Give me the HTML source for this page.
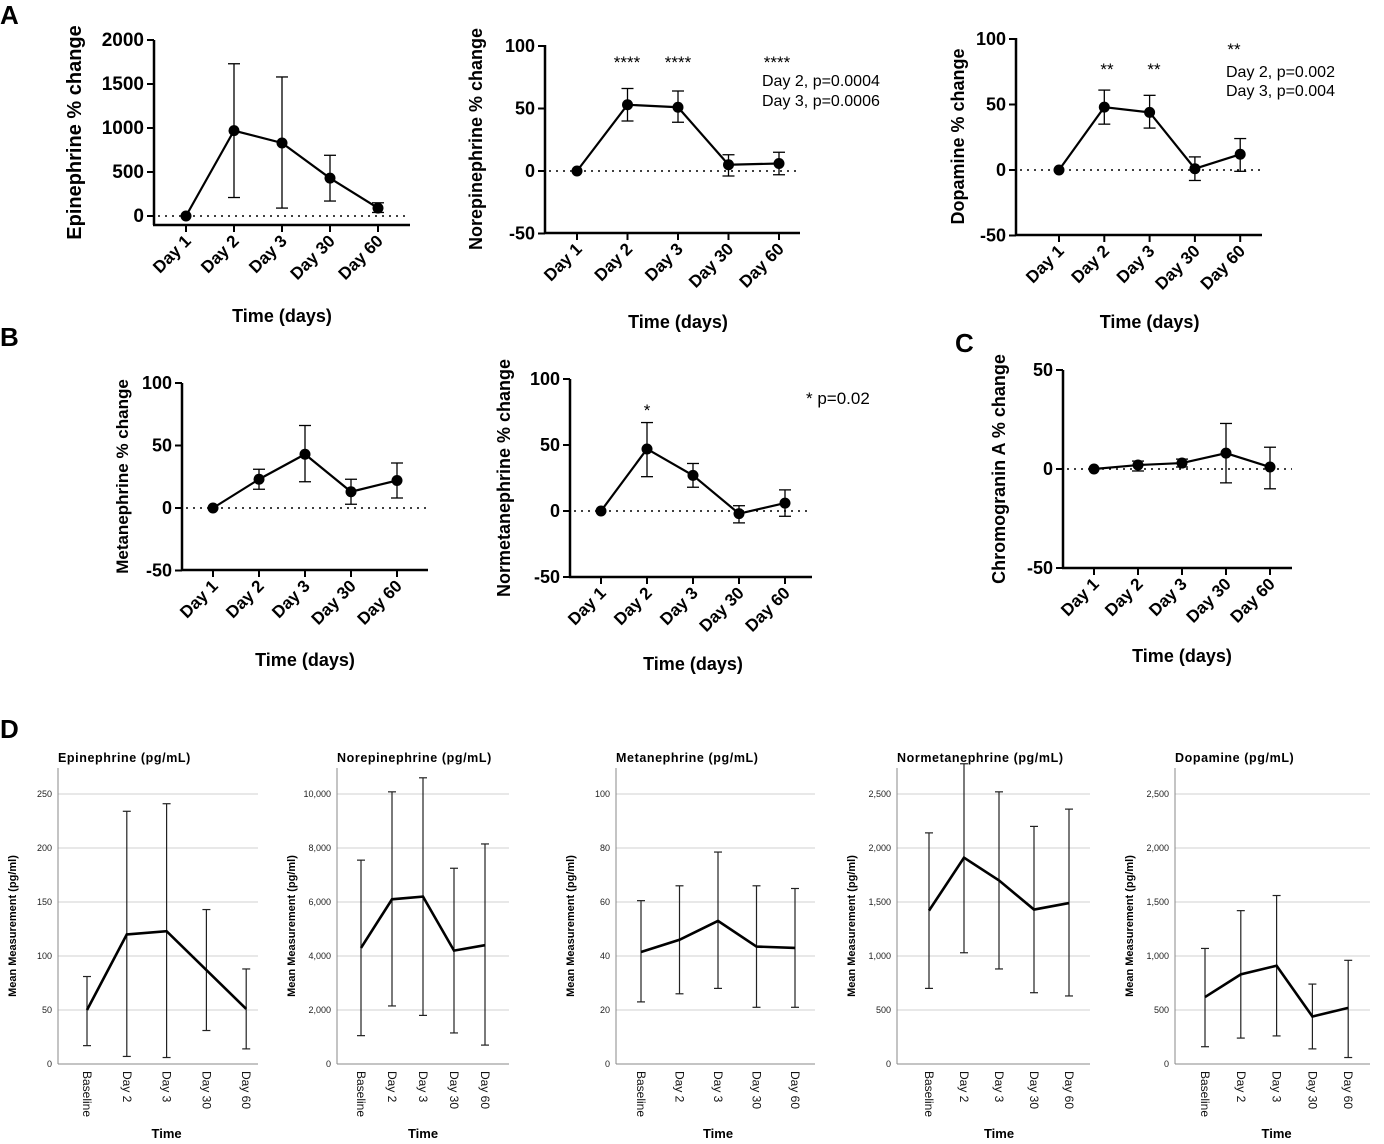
<!DOCTYPE html>
<html><head><meta charset="utf-8">
<style>
html,body{margin:0;padding:0;background:#fff;}
svg{display:block;font-family:"Liberation Sans",Arial,sans-serif;}
</style></head>
<body>
<svg id="fig" width="1384" height="1144" viewBox="0 0 1384 1144" xmlns="http://www.w3.org/2000/svg">
<text x="0" y="24" font-size="26" font-weight="bold">A</text>
<text x="0" y="346" font-size="26" font-weight="bold">B</text>
<text x="955" y="352" font-size="26" font-weight="bold">C</text>
<text x="0" y="738" font-size="26" font-weight="bold">D</text>
</svg>
<script>
// ---- Panel A/B/C data ----
const prismCats = ["Day 1","Day 2","Day 3","Day 30","Day 60"];
const epiVals = [0, 970, 830, 430, 90];
const epiLo   = [0, 210, 90, 170, 40];
const epiHi   = [0, 1730, 1580, 690, 150];
const epiTicks = [0, 500, 1000, 1500, 2000];
const norVals = [0, 53, 51, 5, 6];
const norLo   = [0, 40, 39, -4, -3];
const norHi   = [0, 66, 64, 13, 15];
const dopVals = [0, 48, 44, 1, 12];
const dopLo   = [0, 35, 32, -8, -1];
const dopHi   = [0, 61, 57, 10, 24];
const pctTicks = [-50, 0, 50, 100];
const metVals = [0, 23, 43, 13, 22];
const metLo   = [0, 15, 21, 3, 8];
const metHi   = [0, 31, 66, 23, 36];
const nmetVals = [0, 47, 27, -2, 6];
const nmetLo   = [0, 26, 18, -9, -4];
const nmetHi   = [0, 67, 36, 4, 16];
const cgaVals = [0, 2, 3, 8, 1];
const cgaLo   = [0, -1, 1, -7, -10];
const cgaHi   = [0, 4, 5, 23, 11];
const cgaTicks = [-50, 0, 50];
// ---- Panel D data ----
const dCats = ["Baseline","Day 2","Day 3","Day 30","Day 60"];
const dEpiVals = [50, 120, 123, 87, 51];
const dEpiLo = [17, 7, 6, 31, 14];
const dEpiHi = [81, 234, 241, 143, 88];
const dEpiTicks = [0, 50, 100, 150, 200, 250];
const dNorVals = [4300, 6100, 6200, 4200, 4400];
const dNorLo = [1050, 2150, 1800, 1150, 700];
const dNorHi = [7550, 10080, 10600, 7250, 8150];
const dNorTicks = [0, 2000, 4000, 6000, 8000, 10000];
const dMetVals = [41.5, 46, 53, 43.5, 43];
const dMetLo = [23, 26, 28, 21, 21];
const dMetHi = [60.5, 66, 78.5, 66, 65];
const dMetTicks = [0, 20, 40, 60, 80, 100];
const dNmetVals = [1420, 1910, 1700, 1430, 1490];
const dNmetLo = [700, 1030, 880, 660, 630];
const dNmetHi = [2140, 2780, 2520, 2200, 2360];
const dNmetTicks = [0, 500, 1000, 1500, 2000, 2500];
const dDopVals = [620, 830, 910, 440, 520];
const dDopLo = [160, 240, 260, 140, 60];
const dDopHi = [1070, 1420, 1560, 740, 960];
const dDopTicks = [0, 500, 1000, 1500, 2000, 2500];

const svg = document.getElementById('fig');
const NS = "http://www.w3.org/2000/svg";
function mk(tag, attrs, parent, txt){
  const e = document.createElementNS(NS, tag);
  for (const k in attrs) e.setAttribute(k, attrs[k]);
  if (txt !== undefined) e.textContent = txt;
  (parent||svg).appendChild(e);
  return e;
}
function fmt(v){ return v.toLocaleString('en-US'); }

function prism(c){
  const g = mk('g', {});
  
  
  const y = v => c.y0 - v*c.k;
  const x = i => c.x0 + i*c.step;
  const ya = mk('line', {x1:c.ax, x2:c.ax, y1:c.top, y2:c.bot, stroke:'#000','stroke-width':2.5}, g);
  
  
  const xa = mk('line', {x1:c.ax-1, x2:c.xend, y1:c.bot, y2:c.bot, stroke:'#000','stroke-width':2.5}, g);
  
  
  c.ticks.forEach(t => {
    mk('line', {x1:c.ax-7, x2:c.ax, y1:y(t), y2:y(t), stroke:'#000','stroke-width':2}, g);
    const tl = mk('text', {x:c.ax-10, y:y(t)+6, 'text-anchor':'end','font-size':c.fs,'font-weight':'bold'}, g, t);
    
    
  });
  mk('line', {x1:c.ax+4, x2:c.xend, y1:y(0), y2:y(0), stroke:'#000','stroke-width':1.6,'stroke-dasharray':'2,5'}, g);
  prismCats.forEach((cat,i) => {
    mk('line', {x1:x(i), x2:x(i), y1:c.bot, y2:c.bot+7, stroke:'#000','stroke-width':2}, g);
    const xl = mk('text', {transform:`translate(${x(i)+6},${c.bot+17}) rotate(-45)`, 'text-anchor':'end','font-size':17,'font-weight':'bold'}, g, cat);
    
    
  });
  c.vals.forEach((v,i) => {
    if (c.hi[i] === c.lo[i]) return;
    const eb = mk('g', {stroke:'#000','stroke-width':1.3}, g);
    
    
    mk('line', {x1:x(i), x2:x(i), y1:y(c.lo[i]), y2:y(c.hi[i])}, eb);
    mk('line', {x1:x(i)-6, x2:x(i)+6, y1:y(c.lo[i]), y2:y(c.lo[i])}, eb);
    mk('line', {x1:x(i)-6, x2:x(i)+6, y1:y(c.hi[i]), y2:y(c.hi[i])}, eb);
  });
  const ln = mk('polyline', {points:c.vals.map((v,i)=>x(i)+','+y(v)).join(' '), fill:'none', stroke:'#000','stroke-width':2.2}, g);
  
  
  c.vals.forEach((v,i) => {
    const p = mk('circle', {cx:x(i), cy:y(v), r:5.5, fill:'#000'}, g);
    
    
  });
  const yt = mk('text', {transform:`translate(${c.ytx},${(c.top+c.bot)/2}) rotate(-90)`, 'text-anchor':'middle','font-size':c.tfs,'font-weight':'bold'}, g, c.ytitle);
  
  
  const xt = mk('text', {x:(x(0)+x(4))/2, y:c.xty, 'text-anchor':'middle','font-size':18,'font-weight':'bold'}, g, 'Time (days)');
  
  
  return g;
}

prism({name:'epinephrine-pct-chart', ax:154, y0:216, k:176/2000, top:40, bot:225, xend:410, x0:186, step:48, ticks:epiTicks, fs:19, tfs:20, vals:epiVals, lo:epiLo, hi:epiHi, ytitle:'Epinephrine % change', ytx:81, xty:322});
prism({name:'norepinephrine-pct-chart', ax:545, y0:171, k:1.25, top:45, bot:233, xend:800, x0:577, step:50.5, ticks:pctTicks, fs:18, tfs:18, vals:norVals, lo:norLo, hi:norHi, ytitle:'Norepinephrine % change', ytx:482, xty:328});
prism({name:'dopamine-pct-chart', ax:1016, y0:170, k:1.31, top:38, bot:235, xend:1262, x0:1059, step:45.3, ticks:pctTicks, fs:18, tfs:18, vals:dopVals, lo:dopLo, hi:dopHi, ytitle:'Dopamine % change', ytx:964, xty:328});
prism({name:'metanephrine-pct-chart', ax:182, y0:508, k:1.25, top:383, bot:570, xend:428, x0:213, step:46, ticks:pctTicks, fs:18, tfs:17, vals:metVals, lo:metLo, hi:metHi, ytitle:'Metanephrine % change', ytx:128, xty:666});
prism({name:'normetanephrine-pct-chart', ax:570, y0:511, k:1.32, top:379, bot:577, xend:812, x0:601, step:46, ticks:pctTicks, fs:18, tfs:18, vals:nmetVals, lo:nmetLo, hi:nmetHi, ytitle:'Normetanephrine % change', ytx:510, xty:670});
prism({name:'chromogranin-pct-chart', ax:1063, y0:469, k:1.98, top:370, bot:568, xend:1292, x0:1094, step:44, ticks:cgaTicks, fs:18, tfs:18, vals:cgaVals, lo:cgaLo, hi:cgaHi, ytitle:'Chromogranin A % change', ytx:1005, xty:662});

function ann(x,y,t,fs,name,anchor){
  const e = mk('text', {x:x, y:y, 'font-size':fs, 'text-anchor':anchor||'start'}, svg, t);
  
  
}
ann(627,68,'****',17,'significance-stars','middle');
ann(678,68,'****',17,'significance-stars','middle');
ann(777,68,'****',17,'significance-stars','middle');
ann(762,86,'Day 2, p=0.0004',16,'p-value-note');
ann(762,106,'Day 3, p=0.0006',16,'p-value-note');
ann(1107,75,'**',17,'significance-stars','middle');
ann(1154,75,'**',17,'significance-stars','middle');
ann(1234,55,'**',17,'significance-stars','middle');
ann(1226,77,'Day 2, p=0.002',16,'p-value-note');
ann(1226,96,'Day 3, p=0.004',16,'p-value-note');
ann(647,416,'*',17,'significance-stars','middle');
ann(806,404,'* p=0.02',17,'p-value-note');

function spss(c){
  const g = mk('g', {});
  
  
  const top=794, base=1064, yTopAx=768;
  const maxT = c.ticks[c.ticks.length-1];
  const y = v => base - v*(base-top)/maxT;
  const x = i => c.x0 + i*c.step;
  c.ticks.forEach(t => {
    if (t>0) mk('line', {x1:c.ax, x2:c.xend, y1:y(t), y2:y(t), stroke:'#d0d0d0','stroke-width':1}, g);
    const tl = mk('text', {x:c.ax-6, y:y(t)+3, 'text-anchor':'end','font-size':9,fill:'#222'}, g, fmt(t));
    
    
  });
  mk('line', {x1:c.ax, x2:c.ax, y1:yTopAx, y2:base, stroke:'#888','stroke-width':1}, g);
  mk('line', {x1:c.ax, x2:c.xend, y1:base, y2:base, stroke:'#888','stroke-width':1}, g);
  dCats.forEach((cat,i) => {
    const xl = mk('text', {transform:`translate(${x(i)-4},${base+7}) rotate(90)`, 'font-size':12,fill:'#111'}, g, cat);
    
    
  });
  c.vals.forEach((v,i) => {
    const eb = mk('g', {stroke:'#222','stroke-width':1.2}, g);
    
    
    mk('line', {x1:x(i), x2:x(i), y1:y(c.lo[i]), y2:Math.max(y(c.hi[i]),yTopAx-4)}, eb);
    mk('line', {x1:x(i)-4, x2:x(i)+4, y1:y(c.lo[i]), y2:y(c.lo[i])}, eb);
    mk('line', {x1:x(i)-4, x2:x(i)+4, y1:y(c.hi[i]), y2:y(c.hi[i])}, eb);
  });
  const ln = mk('polyline', {points:c.vals.map((v,i)=>x(i)+','+y(v)).join(' '), fill:'none', stroke:'#000','stroke-width':2.6}, g);
  
  
  const tt = mk('text', {x:c.ax, y:762, 'font-size':12.5,'font-weight':'bold','letter-spacing':'0.6'}, g, c.title);
  
  
  const yt = mk('text', {transform:`translate(${c.ax-42},${(yTopAx+base)/2+10}) rotate(-90)`, 'text-anchor':'middle','font-size':11,'font-weight':'bold'}, g, 'Mean Measurement (pg/ml)');
  
  
  const xt = mk('text', {x:(x(0)+x(4))/2, y:1138, 'text-anchor':'middle','font-size':13,'font-weight':'bold'}, g, 'Time');
  
  
}
spss({name:'epinephrine-mean-chart', title:'Epinephrine (pg/mL)', ax:58, xend:258, x0:87, step:39.8, ticks:dEpiTicks, vals:dEpiVals, lo:dEpiLo, hi:dEpiHi});
spss({name:'norepinephrine-mean-chart', title:'Norepinephrine (pg/mL)', ax:337, xend:509, x0:361, step:31, ticks:dNorTicks, vals:dNorVals, lo:dNorLo, hi:dNorHi});
spss({name:'metanephrine-mean-chart', title:'Metanephrine (pg/mL)', ax:616, xend:815, x0:641, step:38.5, ticks:dMetTicks, vals:dMetVals, lo:dMetLo, hi:dMetHi});
spss({name:'normetanephrine-mean-chart', title:'Normetanephrine (pg/mL)', ax:897, xend:1090, x0:929, step:35, ticks:dNmetTicks, vals:dNmetVals, lo:dNmetLo, hi:dNmetHi});
spss({name:'dopamine-mean-chart', title:'Dopamine (pg/mL)', ax:1175, xend:1370, x0:1205, step:35.8, ticks:dDopTicks, vals:dDopVals, lo:dDopLo, hi:dDopHi});
</script>
</body></html>
